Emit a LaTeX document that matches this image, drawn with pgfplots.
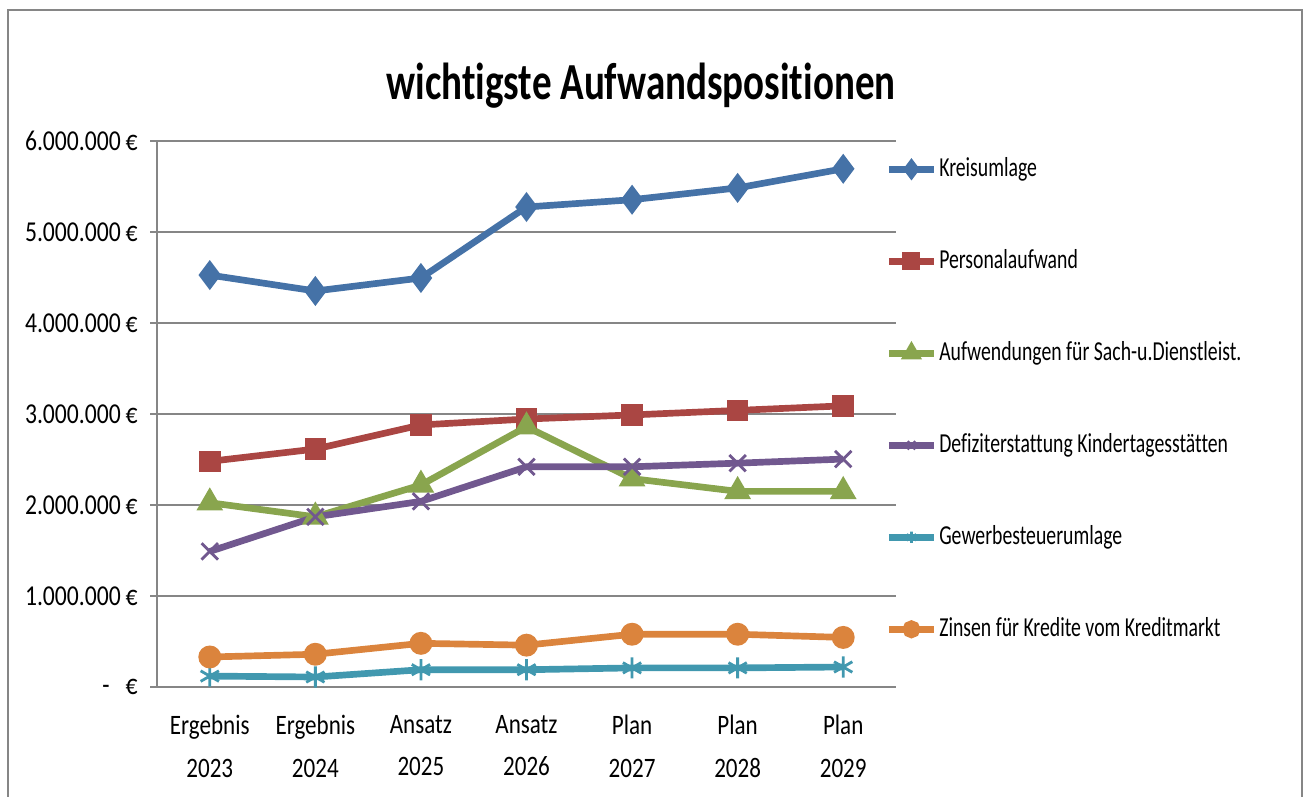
\documentclass[border=0pt]{standalone}
\usepackage{fontspec}
\setmainfont{Carlito}[FakeStretch=0.82, Ligatures=NoCommon]
\newfontfamily\legfont{Carlito}[FakeStretch=0.72, Ligatures=NoCommon]
\newfontfamily\titlefont{Carlito}[FakeStretch=0.75, Ligatures=NoCommon]
\usepackage{pgfplots}
\pgfplotsset{compat=1.18}
\definecolor{cKreis}{HTML}{4572A7}
\definecolor{cPers}{HTML}{AA4643}
\definecolor{cSach}{HTML}{89A54E}
\definecolor{cDef}{HTML}{71588F}
\definecolor{cGew}{HTML}{4198AF}
\definecolor{cZins}{HTML}{DB843D}
\definecolor{cGrid}{HTML}{868686}
\begin{document}
\begin{tikzpicture}[x=1cm,y=1cm]
\useasboundingbox (0,0) rectangle (13.09,7.96);
\draw[cGrid, line width=0.8pt] (0.08,-0.2) -- (0.08,7.86) -- (13.02,7.86) -- (13.02,-0.2);
\node[font=\titlefont\bfseries\fontsize{14.8}{17}\selectfont] at (6.41,7.10) {wichtigste Aufwandspositionen};
\begin{axis}[
  at={(1.57cm,1.09cm)}, anchor=south west,
  scale only axis, width=7.39cm, height=5.46cm,
  xmin=-0.5, xmax=6.5, ymin=0, ymax=6000000,
  axis x line*=bottom, axis y line*=left,
  axis line style={cGrid, line width=0.7pt},
  ymajorgrids, grid style={cGrid, line width=0.7pt},
  xtick={0,...,6},
  xticklabels={{Ergebnis\\2023},{Ergebnis\\2024},{Ansatz\\2025},{Ansatz\\2026},{Plan\\2027},{Plan\\2028},{Plan\\2029}},
  xticklabel style={align=center, font=\fontsize{8}{12}\selectfont, yshift=-0.9mm},
  x tick style={draw=none},
  extra x ticks={-0.5,0.5,1.5,2.5,3.5,4.5,5.5,6.5},
  extra x tick labels={},
  extra x tick style={grid=none, tick style={draw=cGrid, line width=0.7pt}, major tick length=0.8mm, tick align=outside},
  ytick={0,1000000,2000000,3000000,4000000,5000000,6000000},
  yticklabels={{-\ \ \ €},{1.000.000\,€},{2.000.000\,€},{3.000.000\,€},{4.000.000\,€},{5.000.000\,€},{6.000.000\,€}},
  yticklabel style={font=\fontsize{8.2}{10}\selectfont},
  y tick style={draw=cGrid, line width=0.7pt},
  tick align=outside, major tick length=0.7mm,
  scaled y ticks=false,
  clip=false,
  legend cell align=left,
  legend style={at={(axis description cs:0.985,0.977)}, anchor=north west, draw=none, fill=none,
    inner sep=0pt, row sep=6.2mm, font=\legfont\fontsize{7.8}{10}\selectfont,
    nodes={inner xsep=0.2mm, inner ysep=0pt, text height=2.2mm, text depth=0.8mm}},
  legend image code/.code={\draw[mark repeat=2,mark phase=2,#1, mark size=1.6pt] plot coordinates {(0cm,0cm) (0.225cm,0cm) (0.45cm,0cm)};},
]
\addplot[cKreis, line width=1.9pt, mark=diamond*, mark size=2.7pt, mark options={solid}] coordinates {(0,4527000) (1,4352000) (2,4495000) (3,5275000) (4,5355000) (5,5485000) (6,5695000)};
\addlegendentry{Kreisumlage}
\addplot[cPers, line width=1.9pt, mark=square*, mark size=2.1pt] coordinates {(0,2480000) (1,2615000) (2,2880000) (3,2945000) (4,2990000) (5,3040000) (6,3090000)};
\addlegendentry{Personalaufwand}
\addplot[cSach, line width=1.9pt, mark=triangle*, mark size=2.5pt] coordinates {(0,2025000) (1,1870000) (2,2220000) (3,2860000) (4,2290000) (5,2150000) (6,2150000)};
\addlegendentry{Aufwendungen für Sach-u.Dienstleist.}
\addplot[cDef, line width=1.9pt, mark=x, mark size=3.3pt, mark options={line width=0.8pt}] coordinates {(0,1490000) (1,1870000) (2,2040000) (3,2420000) (4,2420000) (5,2460000) (6,2505000)};
\addlegendentry{Defiziterstattung Kindertagesstätten}
\addplot[cGew, line width=1.9pt, mark=asterisk, mark size=3.0pt, mark options={line width=0.8pt}] coordinates {(0,120000) (1,110000) (2,190000) (3,190000) (4,210000) (5,210000) (6,220000)};
\addlegendentry{Gewerbesteuerumlage}
\addplot[cZins, line width=1.9pt, mark=*, mark size=2.3pt] coordinates {(0,330000) (1,360000) (2,480000) (3,460000) (4,580000) (5,580000) (6,545000)};
\addlegendentry{Zinsen für Kredite vom Kreditmarkt}
\end{axis}
\end{tikzpicture}
\end{document}
